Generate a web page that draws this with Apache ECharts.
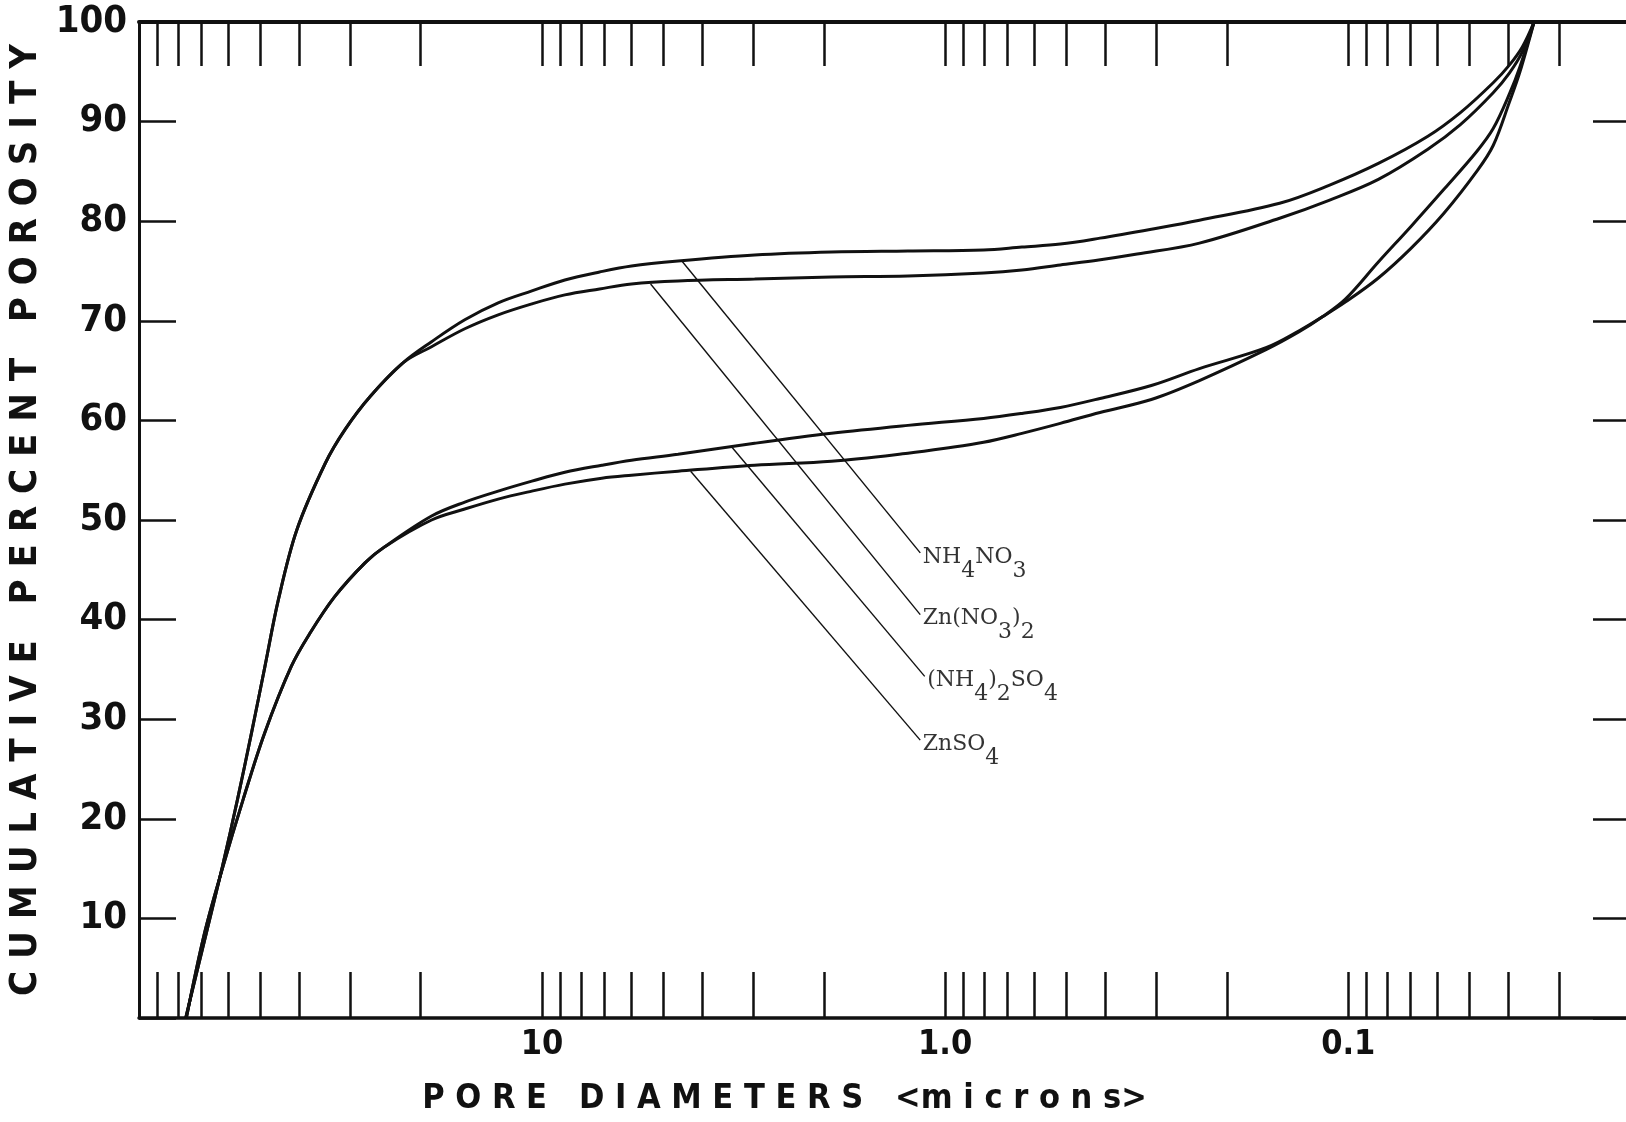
<!DOCTYPE html>
<html>
<head>
<meta charset="utf-8">
<title>Cumulative percent porosity</title>
<script src="https://cdn.jsdelivr.net/npm/echarts@6/dist/echarts.min.js"></script>
<style>
  html, body { margin: 0; padding: 0; background: #fff; }
  #main { width: 1626px; height: 1122px; }
</style>
</head>
<body>
<div id="main"></div>
<script>
// [pore diameter (microns), cumulative percent porosity]
const nh4no3 = [
  [76.6, 0], [68.1, 8.5], [62.1, 15.2], [57.0, 21.9], [52.6, 28.6], [48.7, 35.3],
  [45.1, 42.0], [40.6, 49.0], [34.5, 55.7], [30.8, 59.1], [26.7, 62.4], [22.1, 65.8],
  [18.8, 67.9], [15.55, 70.1], [12.85, 71.8], [10.6, 73.0], [8.78, 74.1], [7.2, 74.9],
  [6.0, 75.5], [4.6, 76.0], [2.97, 76.6], [1.915, 76.9], [1.237, 77.0], [0.803, 77.1],
  [0.645, 77.4], [0.518, 77.7], [0.413, 78.3], [0.308, 79.2], [0.234, 80.1], [0.148, 81.8],
  [0.1116, 83.6], [0.0842, 85.8], [0.0636, 88.5], [0.0527, 90.9], [0.0437, 93.9],
  [0.0398, 95.7], [0.037, 97.5], [0.0346, 100]
];
const znNo3 = [
  [76.6, 0], [68.1, 8.5], [62.1, 15.2], [57.0, 21.9], [52.6, 28.6], [48.7, 35.3],
  [45.1, 42.0], [40.6, 49.0], [34.5, 55.7], [30.8, 59.1], [26.7, 62.4], [22.1, 65.8],
  [18.8, 67.4], [15.55, 69.2], [12.85, 70.6], [10.6, 71.7], [8.78, 72.6], [7.2, 73.2],
  [6.0, 73.7], [4.6, 74.0], [2.97, 74.2], [1.915, 74.4], [1.237, 74.5], [0.803, 74.8],
  [0.645, 75.1], [0.518, 75.6], [0.416, 76.1], [0.334, 76.7], [0.234, 77.8], [0.148, 80.3],
  [0.1116, 82.1], [0.0842, 84.2], [0.0636, 87.2], [0.0527, 89.7], [0.0437, 92.9],
  [0.0398, 94.9], [0.037, 97.0], [0.0346, 100]
];
const nh4So4 = [
  [76.3, 0], [68.8, 8.5], [61.9, 15.2], [55.2, 21.9], [48.8, 28.6], [41.9, 35.3],
  [37.7, 38.6], [32.7, 42.3], [27.5, 45.7], [24.6, 47.3], [18.8, 50.4], [15.55, 51.8],
  [12.85, 52.9], [10.6, 53.9], [8.78, 54.8], [7.11, 55.5], [6.0, 56.0], [4.6, 56.6],
  [2.97, 57.7], [1.915, 58.7], [1.237, 59.5], [0.803, 60.2], [0.645, 60.7], [0.518, 61.3],
  [0.413, 62.2], [0.308, 63.5], [0.234, 65.2], [0.16, 67.3], [0.1324, 69.0], [0.1159, 70.4],
  [0.1015, 71.9], [0.0842, 74.3], [0.0698, 77.3], [0.0579, 80.8], [0.048, 85.0],
  [0.0437, 87.6], [0.0398, 92.0], [0.0375, 95.0], [0.0346, 100]
];
const znSo4 = [
  [76.3, 0], [68.8, 8.5], [61.9, 15.2], [55.2, 21.9], [48.8, 28.6], [41.9, 35.3],
  [37.7, 38.6], [32.7, 42.3], [27.5, 45.7], [24.6, 47.3], [18.8, 50.0], [15.55, 51.1],
  [12.85, 52.1], [10.6, 52.9], [8.78, 53.6], [7.11, 54.2], [6.0, 54.5], [4.6, 54.9],
  [2.97, 55.5], [1.915, 55.9], [1.237, 56.7], [1.0, 57.2], [0.803, 57.8], [0.645, 58.7],
  [0.518, 59.7], [0.413, 60.8], [0.308, 62.1], [0.234, 64.0], [0.16, 67.1], [0.1324, 68.9],
  [0.1159, 70.4], [0.1015, 72.2], [0.0842, 75.9], [0.0698, 79.5], [0.0579, 83.2],
  [0.048, 87.0], [0.0437, 89.3], [0.0398, 92.8], [0.0375, 95.5], [0.0346, 100]
];

// leader lines: from the curve out to the label
const leaderNh4no3 = [[4.5, 76.0], [1.153, 46.7]];
const leaderZnNo3 = [[5.38, 73.7], [1.153, 40.5]];
const leaderNh4So4 = [[3.38, 57.3], [1.124, 34.3]];
const leaderZnSo4 = [[4.28, 54.9], [1.153, 27.9]];

const curveLabels = [
  '{n|NH}{s|4}{n|NO}{s|3}',
  '{n|Zn(NO}{s|3}{n|)}{s|2}',
  '{n|(NH}{s|4}{n|)}{s|2}{n|SO}{s|4}',
  '{n|ZnSO}{s|4}'
];

const xTickValues = [
  90, 80, 70, 60, 50, 40, 30, 20, 10,
  9, 8, 7, 6, 5, 4, 3, 2, 1,
  0.9, 0.8, 0.7, 0.6, 0.5, 0.4, 0.3, 0.2, 0.1,
  0.09, 0.08, 0.07, 0.06, 0.05, 0.04, 0.03
];
const xLabelValues = [10, 1, 0.1];
const xLabelText = ['10', '1.0', '0.1'];

const condensed = "'Liberation Sans Narrow', 'DejaVu Sans Condensed', sans-serif";
const typewriter = "'DejaVu Serif', 'Liberation Serif', serif";
const ink = '#111';

var chartDom = document.getElementById('main');
var myChart = echarts.init(chartDom);

function xLabel(v) {
  for (let i = 0; i < xLabelValues.length; i++) {
    if (Math.abs(v - xLabelValues[i]) < 1e-9) return xLabelText[i];
  }
  return '';
}

function curve(name, data) {
  return {
    name: name,
    type: 'line',
    data: data,
    symbol: 'none',
    smooth: 0.35,
    lineStyle: { color: ink, width: 3 },
    z: 3
  };
}

function leader(points) {
  return {
    type: 'line',
    data: points,
    symbol: 'none',
    lineStyle: { color: ink, width: 1.4 },
    z: 2
  };
}

function xAxisBase(pos) {
  return {
    type: 'log',
    logBase: 10,
    inverse: true,
    min: 0.02,
    max: 100,
    position: pos,
    axisLine: { show: true, onZero: false, lineStyle: { color: ink, width: pos === 'top' ? 4 : 3.5 } },
    axisTick: {
      show: true,
      inside: true,
      length: pos === 'top' ? 44 : 46,
      customValues: xTickValues,
      lineStyle: { color: ink, width: 2.5 }
    },
    splitLine: { show: false },
    minorTick: { show: false }
  };
}

const bottomAxis = xAxisBase('bottom');
bottomAxis.axisLabel = {
  customValues: xLabelValues,
  formatter: xLabel,
  fontFamily: condensed,
  fontWeight: 'bold',
  fontSize: 34,
  color: ink,
  margin: 10
};
bottomAxis.name = 'P O R E   D I A M E T E R S   <m i c r o n s>';
bottomAxis.nameLocation = 'middle';
bottomAxis.nameGap = 64;
bottomAxis.nameTextStyle = {
  fontFamily: condensed,
  fontWeight: 'bold',
  fontSize: 34,
  color: ink,
  padding: [0, 200, 0, 0]
};

const topAxis = xAxisBase('top');
topAxis.axisLabel = { show: false };

function yAxisBase(pos) {
  return {
    type: 'value',
    min: 0,
    max: 100,
    interval: 10,
    position: pos,
    axisLine: { show: true, onZero: false, lineStyle: { color: ink, width: 3 } },
    axisTick: { show: true, inside: true, length: 37, lineStyle: { color: ink, width: 2.5 } },
    splitLine: { show: false }
  };
}

const leftAxis = yAxisBase('left');
leftAxis.axisLabel = {
  formatter: function (v) { return v === 0 ? '' : String(v); },
  fontFamily: condensed,
  fontWeight: 'bold',
  fontSize: 38,
  color: ink,
  margin: 12
};
leftAxis.name = 'C U M U L A T I V E   P E R C E N T   P O R O S I T Y';
leftAxis.nameLocation = 'middle';
leftAxis.nameRotate = 90;
leftAxis.nameGap = 61;
leftAxis.nameTextStyle = {
  fontFamily: condensed,
  fontWeight: 'bold',
  fontSize: 38,
  color: ink
};

const rightAxis = yAxisBase('right');
rightAxis.axisLabel = { show: false };

var option = {
  animation: false,
  backgroundColor: '#fff',
  grid: {
    left: 139, top: 22, width: 1491, height: 996,
    containLabel: false,
    outerBoundsMode: 'none'
  },
  xAxis: [bottomAxis, topAxis],
  yAxis: [leftAxis, rightAxis],
  series: [
    curve('NH4NO3', nh4no3),
    curve('Zn(NO3)2', znNo3),
    curve('(NH4)2SO4', nh4So4),
    curve('ZnSO4', znSo4),
    leader(leaderNh4no3),
    leader(leaderZnNo3),
    leader(leaderNh4So4),
    leader(leaderZnSo4),
    {
      type: 'scatter',
      symbolSize: 1,
      itemStyle: { color: 'rgba(0,0,0,0)' },
      data: [
        { value: leaderNh4no3[1], label: { formatter: curveLabels[0] } },
        { value: leaderZnNo3[1], label: { formatter: curveLabels[1] } },
        { value: leaderNh4So4[1], label: { formatter: curveLabels[2] } },
        { value: leaderZnSo4[1], label: { formatter: curveLabels[3] } }
      ],
      label: {
        show: true,
        position: 'right',
        distance: 2,
        offset: [0, 4],
        rich: {
          n: { fontFamily: typewriter, fontSize: 22, color: '#000' },
          s: { fontFamily: typewriter, fontSize: 22, color: '#000', padding: [28, 0, 0, 0] }
        }
      },
      z: 4
    }
  ]
};

option && myChart.setOption(option);
</script>
</body>
</html>
